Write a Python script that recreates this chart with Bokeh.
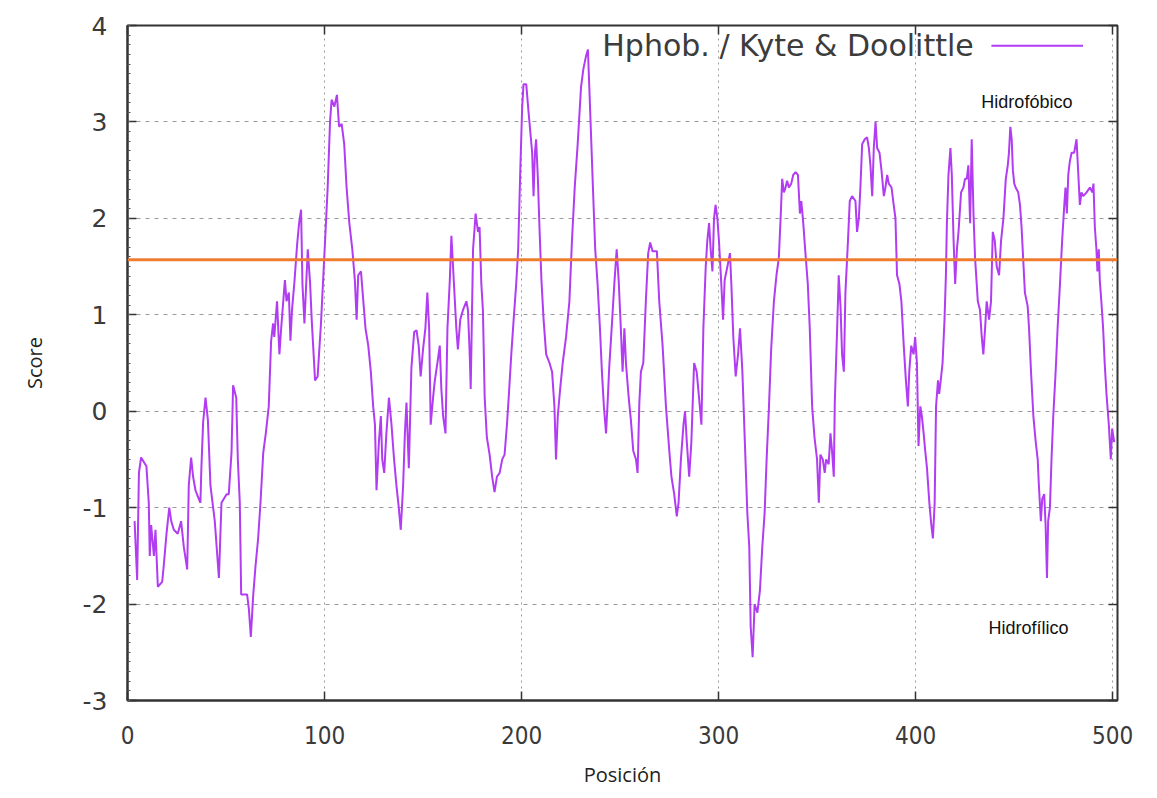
from bokeh.plotting import figure
from bokeh.models import Range1d, Span, Label, LinearAxis, FixedTicker
from bokeh.embed import file_html
from bokeh.resources import INLINE

# ---------------- data ----------------
position = [
    3.6, 4.9, 5.8, 6.9, 9.6, 10.8, 11.3, 12.0, 13.4, 14.2, 15.4, 17.6, 18.4, 19.8,
    21.2, 22.2, 23.5, 25.5, 27.2, 28.6, 30.3, 31.1, 32.3, 33.3, 34.5, 37.0, 37.5,
    38.4, 39.6, 40.8, 42.1, 44.3, 46.4, 47.7, 50.3, 51.4, 52.8, 53.6, 55.2, 56.0,
    57.0, 57.7, 60.7, 61.6, 62.6, 63.8, 65.0, 66.3, 67.5, 68.9, 70.2, 71.7, 72.9,
    73.9, 74.5, 75.9, 77.1, 78.0, 79.9, 80.7, 81.9, 82.7, 83.5, 84.8, 86.1, 87.1,
    88.1, 88.8, 89.8, 91.5, 92.7, 93.5, 95.2, 96.5, 98.2, 100.2, 101.6, 102.8,
    103.6, 105.0, 106.3, 107.4, 108.7, 110.0, 111.2, 112.6, 114.1, 115.4, 116.3,
    117.1, 118.5, 119.7, 120.8, 122.2, 123.5, 124.7, 125.6, 126.4, 127.6, 128.6,
    129.3, 130.3, 131.4, 132.7, 134.0, 135.3, 136.5, 137.7, 138.7, 139.9, 140.8,
    141.6, 142.8, 144.1, 145.5, 146.7, 147.8, 148.8, 150.0, 151.2, 152.2, 153.1,
    153.9, 155.1, 156.0, 157.3, 158.5, 159.3, 160.2, 161.4, 162.4, 163.6, 164.4,
    165.7, 166.9, 167.7, 168.9, 170.3, 172.0, 172.8, 173.7, 174.2, 175.4, 176.7,
    177.9, 178.7, 179.6, 180.4, 181.3, 182.4, 183.8, 185.1, 186.3, 187.5, 188.9,
    190.2, 191.4, 192.6, 193.6, 194.8, 196.0, 197.3, 198.3, 199.3, 200.3, 201.0,
    202.4, 203.4, 204.4, 205.4, 206.1, 206.8, 207.4, 208.3, 209.1, 210.1, 211.2,
    212.5, 214.2, 215.5, 216.7, 217.5, 218.4, 219.6, 220.9, 222.6, 224.3, 225.6,
    227.0, 228.5, 230.2, 231.4, 232.7, 233.7, 234.4, 235.2, 236.4, 237.4, 238.6,
    239.8, 240.8, 241.8, 242.9, 243.7, 244.5, 245.9, 247.1, 248.3, 249.3, 250.4,
    251.3, 252.2, 253.0, 254.4, 255.5, 256.7, 258.1, 258.9, 259.8, 260.6, 261.8,
    263.1, 264.3, 265.3, 266.5, 268.7, 269.9, 271.6, 273.3, 275.0, 276.1, 277.5,
    278.8, 279.7, 280.9, 282.2, 283.0, 283.9, 285.1, 286.2, 287.6, 288.9, 290.1,
    291.3, 292.3, 293.5, 294.3, 295.2, 296.0, 296.9, 297.7, 298.5, 299.4, 300.2,
    301.4, 302.3, 303.1, 304.5, 305.8, 306.5, 307.5, 308.7, 309.9, 310.9, 312.1,
    313.2, 314.6, 315.6, 316.3, 317.3, 318.3, 319.7, 321.0, 322.2, 323.4, 324.4,
    325.6, 326.7, 328.1, 329.4, 330.6, 331.5, 332.3, 333.2, 334.0, 334.8, 335.7,
    336.9, 337.9, 339.1, 340.3, 341.3, 342.0, 343.0, 344.1, 345.3, 346.3, 347.5,
    348.7, 350.0, 350.9, 351.7, 352.9, 353.9, 354.6, 355.9, 356.8, 357.6, 358.5,
    359.0, 360.2, 361.0, 361.9, 362.7, 363.6, 364.4, 365.7, 366.6, 367.8, 369.5,
    370.3, 371.2, 372.0, 372.9, 374.2, 375.4, 376.3, 377.1, 378.0, 378.8, 379.7,
    380.5, 381.7, 382.7, 383.9, 384.7, 385.6, 386.4, 387.8, 388.9, 389.8, 390.6,
    391.8, 392.8, 394.0, 395.1, 396.1, 396.8, 397.8, 399.0, 399.8, 400.7, 401.5,
    402.4, 403.2, 404.1, 404.9, 405.8, 407.0, 408.0, 408.8, 409.7, 410.4, 411.4,
    412.0, 413.0, 413.7, 414.7, 415.4, 415.9, 416.7, 417.7, 418.4, 419.3, 420.1,
    421.0, 421.8, 423.1, 424.3, 425.1, 426.0, 426.8, 427.7, 428.5, 429.4, 430.2,
    431.6, 432.7, 433.6, 434.4, 435.3, 436.1, 437.3, 438.3, 439.2, 440.2, 441.2,
    442.4, 443.4, 444.6, 445.8, 446.8, 447.4, 448.1, 448.8, 449.4, 450.1, 450.8,
    452.1, 453.0, 453.8, 454.7, 455.5, 456.9, 457.6, 458.6, 459.8, 461.0, 462.0,
    462.6, 463.6, 464.3, 465.3, 466.0, 466.7, 467.3, 468.2, 469.0, 469.9, 471.1,
    472.1, 473.3, 474.4, 475.5, 476.1, 476.8, 477.5, 478.3, 479.2, 480.5, 481.7,
    482.5, 483.4, 484.2, 485.1, 486.8, 488.5, 489.7, 490.3, 491.0, 491.8, 492.3,
    493.0, 493.5, 494.3, 495.2, 496.0, 496.9, 498.1, 499.1, 499.8, 500.8,
]
score = [
    -1.14, -1.75, -0.64, -0.48, -0.57, -0.95, -1.50, -1.18, -1.50, -1.23, -1.82, -1.77, -1.60, -1.27,
    -1.00, -1.14, -1.23, -1.27, -1.14, -1.41, -1.64, -0.77, -0.48, -0.68, -0.82, -0.95, -0.59,
    -0.11, 0.14, -0.09, -0.77, -1.14, -1.73, -0.95, -0.86, -0.86, -0.43, 0.27, 0.14, -0.50,
    -0.95, -1.90, -1.90, -2.05, -2.34, -1.91, -1.60, -1.32, -0.95, -0.43, -0.23, 0.05, 0.73,
    0.91, 0.77, 1.14, 0.59, 0.86, 1.36, 1.14, 1.23, 0.73, 1.05, 1.36, 1.73, 1.95,
    2.09, 1.32, 0.91, 1.68, 1.32, 0.95, 0.32, 0.36, 0.91, 1.73, 2.32, 3.00,
    3.23, 3.16, 3.28, 2.95, 2.98, 2.77, 2.32, 1.95, 1.68, 1.36, 0.95,
    1.41, 1.45, 1.14, 0.86, 0.68, 0.41, 0.05, -0.14, -0.82, -0.32, -0.05,
    -0.50, -0.64, -0.23, 0.14, -0.14, -0.50, -0.77, -1.00, -1.23, -0.77, -0.23,
    0.09, -0.59, 0.45, 0.82, 0.84, 0.68, 0.36, 0.64, 0.86, 1.23, 0.86,
    -0.14, 0.14, 0.32, 0.50, 0.68, 0.23, -0.05, -0.23, 0.86, 1.36, 1.82,
    1.32, 0.86, 0.64, 0.95, 1.05, 1.14, 1.05, 0.59, 0.23, 1.68, 2.05,
    1.86, 1.91, 1.32, 1.05, 0.14, -0.27, -0.45, -0.68, -0.84, -0.68, -0.64,
    -0.50, -0.45, -0.14, 0.18, 0.59, 0.95, 1.32, 1.68, 2.45, 3.14, 3.39,
    3.39, 3.14, 2.91, 2.68, 2.23, 2.68, 2.82, 2.41, 1.91, 1.36, 0.95,
    0.59, 0.50, 0.41, 0.05, -0.50, -0.05, 0.23, 0.50, 0.77, 1.14, 1.77,
    2.32, 2.77, 3.36, 3.55, 3.68, 3.75, 3.36, 2.91, 2.23, 1.68, 1.32,
    0.86, 0.41, 0.05, -0.23, 0.09, 0.45, 0.91, 1.32, 1.68, 1.36, 0.86,
    0.41, 0.86, 0.50, 0.14, -0.09, -0.41, -0.50, -0.64, 0.09, 0.41, 0.50,
    1.14, 1.64, 1.75, 1.66, 1.66, 1.14, 0.68, 0.05, -0.41, -0.68, -0.86,
    -1.09, -0.95, -0.50, -0.14, 0.00, -0.32, -0.68, -0.32, 0.50, 0.41, 0.14,
    -0.14, 0.86, 1.50, 1.77, 1.95, 1.68, 1.45, 2.00, 2.14, 2.00, 1.77,
    1.32, 0.95, 1.36, 1.50, 1.64, 1.32, 0.77, 0.36, 0.59, 0.86, 0.41,
    -0.23, -1.05, -1.41, -2.23, -2.55, -2.00, -2.09, -1.86, -1.41, -1.05, -0.50,
    0.05, 0.64, 1.14, 1.41, 1.59, 2.00, 2.41, 2.27, 2.32, 2.39, 2.32,
    2.36, 2.45, 2.48, 2.45, 2.05, 2.18, 1.95, 1.64, 1.32, 0.86, 0.05,
    -0.27, -0.50, -0.95, -0.45, -0.50, -0.64, -0.50, -0.55, -0.23, -0.41, -0.68,
    0.09, 0.86, 1.41, 1.09, 0.59, 0.41, 1.23, 1.77, 2.18, 2.23, 2.18,
    1.86, 2.00, 2.32, 2.77, 2.82, 2.84, 2.73, 2.55, 2.23, 2.73, 3.00,
    2.73, 2.68, 2.50, 2.23, 2.32, 2.45, 2.36, 2.32, 2.14, 2.00, 1.41,
    1.32, 1.14, 0.68, 0.32, 0.05, 0.41, 0.68, 0.59, 0.77, 0.50, -0.36,
    0.05, -0.05, -0.23, -0.41, -0.59, -0.95, -1.18, -1.32, -0.95, 0.05, 0.32,
    0.18, 0.36, 0.50, 0.95, 1.41, 1.95, 2.45, 2.73, 2.45, 1.77, 1.32,
    1.68, 1.86, 2.27, 2.32, 2.41, 2.41, 2.55, 1.95, 2.82, 2.05, 1.59,
    1.14, 1.05, 0.77, 0.59, 0.86, 1.14, 0.95, 1.14, 1.86, 1.77, 1.50,
    1.41, 1.77, 2.00, 2.41, 2.55, 2.68, 2.95, 2.82, 2.50, 2.36, 2.32,
    2.27, 2.14, 1.91, 1.55, 1.23, 1.09, 0.86, 0.41, -0.05, -0.32, -0.50,
    -0.77, -1.14, -0.91, -0.86, -1.18, -1.73, -1.14, -1.00, -0.50, -0.05, 0.41,
    0.86, 1.32, 1.77, 2.14, 2.32, 2.05, 2.45, 2.59, 2.68, 2.68, 2.82,
    2.50, 2.14, 2.27, 2.23, 2.27, 2.32, 2.27, 2.36, 1.91, 1.68, 1.45,
    1.68, 1.36, 1.14, 0.86, 0.50, 0.18, -0.14, -0.50, -0.18, -0.32,
]
threshold = 1.57
x_ticks = [0, 100, 200, 300, 400, 500]
y_ticks = [-3, -2, -1, 0, 1, 2, 3, 4]
series_name = "Hphob. / Kyte & Doolittle"
x_title = "Posición"
y_title = "Score"
upper_note = "Hidrofóbico"
lower_note = "Hidrofílico"

# ---------------- styling ----------------
PURPLE = "#b23cf2"
ORANGE = "#ef7d2f"
FRAME = "#333333"
TICK_TXT = "#3a3a3a"

p = figure(width=1157, height=798, output_backend="svg", toolbar_location=None,
           x_range=Range1d(0, 502.5), y_range=Range1d(-3, 4),
           min_border_left=127, min_border_right=40, min_border_top=25,
           min_border_bottom=98)
p.background_fill_color = "white"
p.border_fill_color = "white"
p.outline_line_color = FRAME
p.outline_line_width = 2

for ax in (p.xaxis[0], p.yaxis[0]):
    ax.axis_line_color = FRAME
    ax.axis_line_width = 2
    ax.major_tick_in = 9
    ax.major_tick_out = 0
    ax.major_tick_line_color = FRAME
    ax.major_tick_line_width = 1.5
    ax.major_label_text_color = TICK_TXT
    ax.axis_label_text_color = "#222222"
    ax.axis_label_text_font_style = "normal"

p.xaxis[0].ticker = FixedTicker(ticks=x_ticks)
p.yaxis[0].ticker = FixedTicker(ticks=y_ticks,
                                minor_ticks=[y / 10 for y in range(-30, 41)])
p.yaxis[0].major_label_overrides = {t: str(t) for t in y_ticks}
p.yaxis[0].minor_tick_in = 3
p.yaxis[0].minor_tick_out = 0
p.yaxis[0].minor_tick_line_color = "#555555"
p.xaxis[0].minor_tick_line_color = None

p.xaxis[0].major_label_text_font = "DejaVu Sans Condensed, Liberation Sans Narrow, DejaVu Sans"
p.xaxis[0].major_label_text_font_size = "24px"
p.xaxis[0].major_label_standoff = 25
p.yaxis[0].major_label_text_font = "DejaVu Sans"
p.yaxis[0].major_label_text_font_size = "25px"
p.yaxis[0].major_label_standoff = 20

p.xaxis[0].axis_label = x_title
p.yaxis[0].axis_label = y_title
p.xaxis[0].axis_label_text_font = "Open Sans"
p.yaxis[0].axis_label_text_font = "Open Sans"
p.xaxis[0].axis_label_text_font_size = "20px"
p.yaxis[0].axis_label_text_font_size = "20px"
p.xaxis[0].axis_label_standoff = 14
p.yaxis[0].axis_label_standoff = 32

# mirrored ticks on top and right (no labels)
top = LinearAxis(ticker=FixedTicker(ticks=x_ticks, minor_ticks=[]),
                 major_label_overrides={t: "" for t in x_ticks},
                 major_tick_in=9, major_tick_out=0, minor_tick_line_color=None,
                 axis_line_color=None, major_tick_line_color=FRAME, major_tick_line_width=1.5,
                 major_label_standoff=0)
right = LinearAxis(ticker=FixedTicker(ticks=y_ticks, minor_ticks=[]),
                   major_label_overrides={t: "" for t in y_ticks},
                   major_tick_in=9, major_tick_out=0, minor_tick_line_color=None,
                   axis_line_color=None, major_tick_line_color=FRAME, major_tick_line_width=1.5,
                   major_label_standoff=0)
p.add_layout(top, "above")
p.add_layout(right, "right")

p.xgrid.ticker = FixedTicker(ticks=[100, 200, 300, 400, 500])
p.ygrid.ticker = FixedTicker(ticks=[-2, -1, 0, 1, 2, 3])
p.xgrid.grid_line_color = "#9a9a9a"
p.xgrid.grid_line_dash = "2 4"
p.ygrid.grid_line_color = "#9a9a9a"
p.ygrid.grid_line_dash = "4 5"
p.xgrid.grid_line_width = 1
p.ygrid.grid_line_width = 1

p.add_layout(Span(location=threshold, dimension="width", line_color=ORANGE,
                  line_width=3))

p.line(position, score, line_color=PURPLE, line_width=2)

# legend (gnuplot style: text then sample)
leg_y = 3.79
p.add_layout(Label(x=241, y=leg_y, text=series_name, text_font="DejaVu Sans",
                   text_font_size="30px", text_color="#3c3c3c",
                   text_baseline="middle", text_align="left"))
p.line([438.5, 485], [leg_y, leg_y], line_color=PURPLE, line_width=2)

p.add_layout(Label(x=433.4, y=3.21, text=upper_note, text_font="Liberation Sans",
                   text_font_size="18px", text_color="#111111",
                   text_baseline="middle", text_align="left"))
p.add_layout(Label(x=437, y=-2.25, text=lower_note, text_font="Liberation Sans",
                   text_font_size="18px", text_color="#111111",
                   text_baseline="middle", text_align="left"))

open("out.html", "w").write(file_html(p, INLINE))
